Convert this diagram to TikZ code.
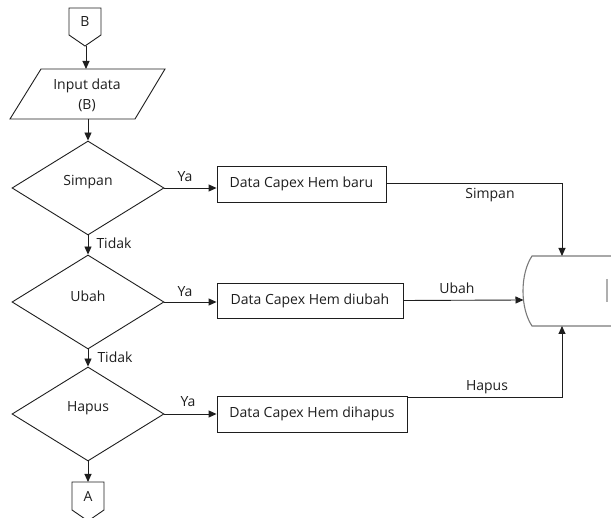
\documentclass[tikz,border=0pt]{standalone}
\usepackage{fontspec}
\setmainfont{Open Sans}
\usetikzlibrary{shapes.geometric,arrows.meta,calc}

\definecolor{ink}{HTML}{1E1E1E}
\definecolor{store}{HTML}{7A7A7A}

\tikzset{
  flow/.style={draw=ink, line width=0.9pt},
  arrowline/.style={draw=ink, line width=0.9pt, -{Triangle[length=8pt,width=7pt]}},
  decision/.style={diamond, flow, minimum width=152pt, minimum height=94pt, inner sep=0pt},
  process/.style={rectangle, flow, minimum height=36pt, inner sep=0pt},
  txt/.style={font=\fontsize{14}{17}\selectfont, text=ink, inner sep=0pt},
}

\begin{document}
\begin{tikzpicture}[x=1pt,y=-1pt]
  \useasboundingbox (0,0) rectangle (611,518);

  % off-page connector B
  \draw[flow] (69,8) -- (101,8) -- (101,35) -- (85,46) -- (69,35) -- cycle;
  \node[txt] (cB) at (85,22) {B};
  \coordinate (cBout) at (86,46);

  % input parallelogram
  \draw[flow] (41,69) -- (165,69) -- (135,119) -- (10,119) -- cycle;
  \coordinate (inTop) at (86,69);
  \coordinate (inBot) at (88,119);
  \node[txt, align=center] (inp) at (87,95) {Input data\\[3pt](B)};

  % decisions
  \node[decision] (d1) at (88,188) {};
  \node[decision] (d2) at (88,302) {};
  \node[decision] (d3) at (88,414) {};
  \node[txt] at ([yshift=6pt]d1.center) {Simpan};
  \node[txt] at ([yshift=6pt]d2.center) {Ubah};
  \node[txt] at ([yshift=6pt]d3.center) {Hapus};

  % processes
  \node[process, minimum width=169pt] (p1) at (301.5,184) {};
  \node[process, minimum width=186pt, minimum height=35pt] (p2) at (310,300.5) {};
  \node[process, minimum width=190pt] (p3) at (312,414) {};
  \node[txt] at (p1.center) {Data Capex Hem baru};
  \node[txt] at (p2.center) {Data Capex Hem diubah};
  \node[txt] at (p3.center) {Data Capex Hem dihapus};

  % stored data
  \draw[draw=store, line width=1.1pt] (616,256) -- (532,256)
     .. controls (520,274) and (520,308) .. (532,326) -- (616,326);
  \draw[draw=store!60, line width=1.2pt] (607,279) -- (607,302);
  \coordinate (sTop) at (562,256);
  \coordinate (sBot) at (562,326);
  \coordinate (sLeft) at (523.5,300);

  % off-page connector A
  \draw[flow] (72,482) -- (104,482) -- (104,510) -- (88,521) -- (72,510) -- cycle;
  \node[txt] (cA) at (88,496) {A};
  \coordinate (cAin) at (88,482);

  % main flow
  \draw[arrowline] (cBout) -- (inTop);
  \draw[arrowline] (inBot) -- (d1.north);
  \draw[arrowline] (d1.south) -- (d2.north);
  \draw[arrowline] (d2.south) -- (d3.north);
  \draw[arrowline] (d3.south) -- (cAin);

  % yes branches
  \draw[arrowline] (d1.east) -- (d1.east -| p1.west);
  \draw[arrowline] (d2.east) -- (d2.east -| p2.west);
  \draw[arrowline] (d3.east) -- (d3.east -| p3.west);

  % into the store
  \draw[arrowline] ([yshift=1pt]p1.east) -| (sTop);
  \draw[arrowline] (p2.east) -- (sLeft);
  \draw[arrowline] ([yshift=-2pt]p3.north east) -| (sBot);

  % labels
  \node[txt] at (185,177) {Ya};
  \node[txt] at (185,292) {Ya};
  \node[txt] at (188,402) {Ya};
  \node[txt] at (114,243) {Tidak};
  \node[txt] at (115,357) {Tidak};
  \node[txt] at (490,195) {Simpan};
  \node[txt] at (457,288) {Ubah};
  \node[txt] at (487,387) {Hapus};
\end{tikzpicture}
\end{document}
